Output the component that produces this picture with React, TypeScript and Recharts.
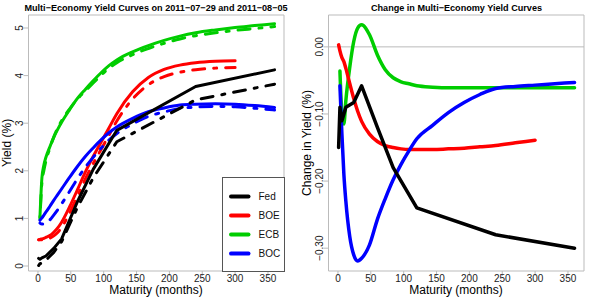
import { LineChart, Line, XAxis, YAxis, ReferenceArea, ReferenceLine, Legend } from 'recharts'

// Fed: par yields at the Treasury maturities (months), drawn piecewise linear
const fedMat = [1, 3, 6, 12, 24, 36, 60, 84, 120, 240, 360]
const fedJul29 = [0.16, 0.14, 0.17, 0.21, 0.37, 0.57, 1.35, 2.03, 2.85, 3.77, 4.12]
const fedChg = [-0.15, -0.09, -0.11, -0.09, -0.083, -0.058, -0.12, -0.18, -0.24, -0.28, -0.3]

// BOE: fitted curve, out to 25 years
const boeMat = [1, 3, 6, 9, 12, 18, 24, 30, 36, 48, 60, 72, 84, 96, 108, 120, 144, 168, 192, 216, 240, 270, 300]
const boeJul29 = [0.55, 0.56, 0.57, 0.58, 0.6, 0.64, 0.71, 0.8, 0.92, 1.24, 1.6, 1.97, 2.3, 2.6, 2.9, 3.2, 3.66, 3.96, 4.13, 4.22, 4.27, 4.3, 4.31]
const boeChg = [0.003, -0.006, -0.016, -0.022, -0.032, -0.055, -0.077, -0.096, -0.111, -0.13, -0.141, -0.147, -0.15, -0.152, -0.153, -0.153, -0.153, -0.152, -0.151, -0.149, -0.147, -0.143, -0.139]

// ECB and BOC: fitted curves on a common grid
const grid = [3, 6, 9, 12, 18, 24, 30, 36, 48, 60, 72, 84, 96, 108, 120, 144, 168, 192, 216, 240, 270, 300, 330, 360]
const ecbJul29 = [1.02, 1.85, 2.12, 2.28, 2.5, 2.7, 2.87, 3.02, 3.28, 3.52, 3.71, 3.89, 4.06, 4.21, 4.33, 4.5, 4.63, 4.74, 4.83, 4.9, 4.96, 5.01, 5.05, 5.09]
const ecbChg = [-0.036, -0.1, -0.115, -0.08, -0.03, 0.008, 0.028, 0.033, 0.018, -0.012, -0.034, -0.046, -0.052, -0.055, -0.058, -0.06, -0.061, -0.061, -0.061, -0.061, -0.061, -0.061, -0.061, -0.061]
const bocJul29 = [0.96, 1.01, 1.07, 1.13, 1.25, 1.38, 1.5, 1.62, 1.86, 2.09, 2.3, 2.48, 2.65, 2.8, 2.92, 3.1, 3.24, 3.32, 3.38, 3.4, 3.41, 3.4, 3.37, 3.33]
const bocChg = [-0.058, -0.13, -0.19, -0.23, -0.283, -0.31, -0.319, -0.315, -0.295, -0.257, -0.226, -0.198, -0.175, -0.155, -0.137, -0.117, -0.098, -0.083, -0.071, -0.062, -0.059, -0.057, -0.055, -0.053]

const xTicks = [0, 50, 100, 150, 200, 250, 300, 350]
const yieldTicks = [0, 1, 2, 3, 4, 5]
const chgTicks = [-0.3, -0.2, -0.1, 0]

const xDomain = [-14.4, 374.4]
const yieldDomain = [-0.105, 5.273]
const chgDomain = [-0.334, 0.0475]

const FONT = '"Liberation Sans", Arial, Helvetica, sans-serif'
const BOX = '#bbbbbb'
const DOTDASH = '3 9 12 9'

const pts = (mat: number[], vals: number[]) => mat.map((m, i) => ({ m, v: vals[i] }))
const plus = (a: number[], b: number[]) => a.map((v, i) => +(v + b[i]).toFixed(3))

const series = [
  { name: 'ECB', color: '#00CD00', mat: grid, jul29: ecbJul29, chg: ecbChg, curve: 'monotone' },
  { name: 'BOE', color: '#FF0000', mat: boeMat, jul29: boeJul29, chg: boeChg, curve: 'monotone' },
  { name: 'BOC', color: '#0000FF', mat: grid, jul29: bocJul29, chg: bocChg, curve: 'monotone' },
  { name: 'Fed', color: '#000000', mat: fedMat, jul29: fedJul29, chg: fedChg, curve: 'linear' },
]
const legendOrder = ['Fed', 'BOE', 'ECB', 'BOC']

const fmtChg = (v: number) => (v === 0 ? '0.00' : v.toFixed(2).replace('-', '\u2212'))

function XTick({ x, payload }: any) {
  return (
    <text x={x} y={281.5} textAnchor="middle" fontSize={10} fontFamily={FONT} fill="#222">
      {payload.value}
    </text>
  )
}

function makeYTick(fmt: (v: number) => string) {
  return ({ y, payload }: any) => (
    <text
      x={23.5}
      y={y}
      transform={`rotate(-90 23.5 ${y})`}
      textAnchor="middle"
      fontSize={10}
      fontFamily={FONT}
      fill="#222"
    >
      {fmt(payload.value)}
    </text>
  )
}

function LegendBox() {
  return (
    <svg width={63} height={95} style={{ display: 'block' }}>
      <rect x={0.5} y={0.5} width={62} height={94} fill="#fff" stroke="#555" />
      {legendOrder.map((n, i) => {
        const s = series.find((d) => d.name === n)!
        const y = 19.5 + i * 19
        return (
          <g key={n}>
            <line x1={9} y1={y} x2={26.5} y2={y} stroke={s.color} strokeWidth={4} strokeLinecap="round" />
            <text x={36.5} y={y + 3.6} fontSize={10} fontFamily={FONT} fill="#111">
              {n}
            </text>
          </g>
        )
      })}
    </svg>
  )
}

const margin = { top: 15, right: 16, bottom: 0, left: 0 }

function Axes({ domain, ticks, fmt }: { domain: number[]; ticks: number[]; fmt: (v: number) => string }) {
  return [
    <XAxis
      key="x"
      dataKey="m"
      type="number"
      domain={xDomain}
      allowDataOverflow
      ticks={xTicks}
      height={30}
      tickSize={5}
      axisLine={false}
      tickLine={{ stroke: BOX }}
      tick={XTick}
    />,
    <YAxis
      key="y"
      type="number"
      domain={domain}
      allowDataOverflow
      ticks={ticks}
      width={28.5}
      tickSize={5}
      axisLine={false}
      tickLine={{ stroke: BOX }}
      tick={makeYTick(fmt)}
    />,
  ]
}

export default function App() {
  return (
    <div style={{ position: 'absolute', left: 0, top: 0, width: 600, height: 301, background: '#fff' }}>
      <div style={{ position: 'absolute', left: 0, top: 0 }}>
        <LineChart width={300} height={301} margin={margin}>
          {Axes({ domain: yieldDomain, ticks: yieldTicks, fmt: (v) => String(v) })}
          <ReferenceArea
            x1={xDomain[0]}
            x2={xDomain[1]}
            y1={yieldDomain[0]}
            y2={yieldDomain[1]}
            fill="none"
            stroke={BOX}
          />
          {series.flatMap((s) => [
            <Line
              key={s.name + '-29'}
              data={pts(s.mat, s.jul29)}
              dataKey="v"
              type={s.curve as any}
              stroke={s.color}
              strokeWidth={3}
              strokeLinecap="round"
              strokeLinejoin="round"
              dot={false}
              activeDot={false}
              legendType="none"
              isAnimationActive={false}
            />,
            <Line
              key={s.name + '-05'}
              data={pts(s.mat, plus(s.jul29, s.chg))}
              dataKey="v"
              type={s.curve as any}
              stroke={s.color}
              strokeWidth={3}
              strokeDasharray={DOTDASH}
              strokeLinecap="round"
              strokeLinejoin="round"
              dot={false}
              activeDot={false}
              legendType="none"
              isAnimationActive={false}
            />,
          ])}
          <Legend
            layout="vertical"
            align="center"
            verticalAlign="middle"
            content={LegendBox}
            wrapperStyle={{ left: 221.5, top: 176.5, width: 63, height: 95 }}
          />
        </LineChart>
      </div>
      <div style={{ position: 'absolute', left: 300, top: 0 }}>
        <LineChart width={300} height={301} margin={margin}>
          {Axes({ domain: chgDomain, ticks: chgTicks, fmt: fmtChg })}
          <ReferenceArea
            x1={xDomain[0]}
            x2={xDomain[1]}
            y1={chgDomain[0]}
            y2={chgDomain[1]}
            fill="none"
            stroke={BOX}
          />
          <ReferenceLine y={0} stroke={BOX} strokeWidth={1} />
          {series.map((s) => (
            <Line
              key={s.name}
              data={pts(s.mat, s.chg)}
              dataKey="v"
              type={s.curve as any}
              stroke={s.color}
              strokeWidth={3.5}
              strokeLinecap="round"
              strokeLinejoin="round"
              dot={false}
              activeDot={false}
              isAnimationActive={false}
            />
          ))}
        </LineChart>
      </div>
      <svg
        width={600}
        height={301}
        style={{ position: 'absolute', left: 0, top: 0, pointerEvents: 'none' }}
        fontFamily={FONT}
      >
        <text x={156} y={11} textAnchor="middle" fontSize={9.1} fontWeight="bold">
          Multi{'\u2212'}Economy Yield Curves on 2011{'\u2212'}07{'\u2212'}29 and 2011{'\u2212'}08{'\u2212'}05
        </text>
        <text x={456.5} y={11} textAnchor="middle" fontSize={9.1} fontWeight="bold">
          Change in Multi{'\u2212'}Economy Yield Curves
        </text>
        <text x={156} y={294} textAnchor="middle" fontSize={12}>
          Maturity (months)
        </text>
        <text x={456} y={294} textAnchor="middle" fontSize={12}>
          Maturity (months)
        </text>
        <text x={10.5} y={143} textAnchor="middle" fontSize={12} transform="rotate(-90 10.5 143)">
          Yield (%)
        </text>
        <text x={310.5} y={143} textAnchor="middle" fontSize={12} transform="rotate(-90 310.5 143)">
          Change in Yield (%)
        </text>
      </svg>
    </div>
  )
}
